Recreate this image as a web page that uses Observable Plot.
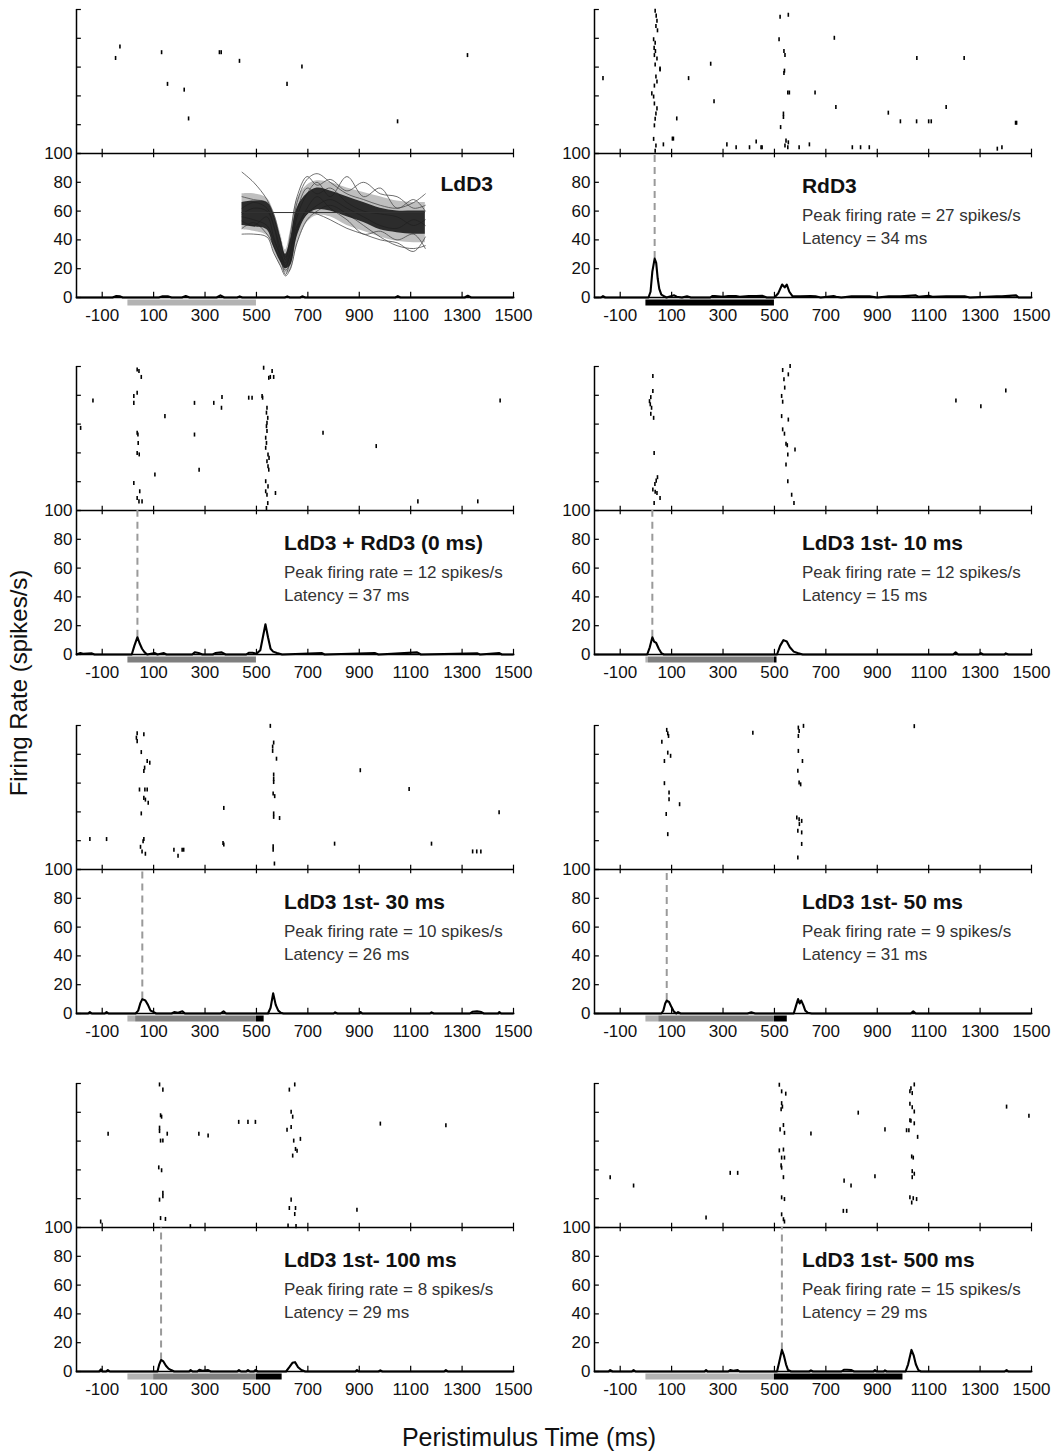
<!DOCTYPE html>
<html>
<head>
<meta charset="utf-8">
<script src="https://cdn.jsdelivr.net/npm/d3@7"></script>
<script src="https://cdn.jsdelivr.net/npm/@observablehq/plot@0.6"></script>
<style>
  body { margin: 0; background: #fff; }
  #fig { position: relative; width: 1060px; height: 1452px; background: #fff;
         font-family: "Liberation Sans", Arial, sans-serif; color: #111; }
  #fig svg { position: absolute; overflow: visible; }
  .ytitle { position: absolute; left: 19px; top: 683px; transform: translate(-50%, -50%) rotate(-90deg);
            font-size: 24px; white-space: nowrap; }
  .xtitle { position: absolute; left: 529px; top: 1437px; transform: translate(-50%, -50%);
            font-size: 25px; white-space: nowrap; }
</style>
</head>
<body>
<div id="fig">
  <div class="ytitle">Firing Rate (spikes/s)</div>
  <div class="xtitle">Peristimulus Time (ms)</div>
</div>
<script>
// ---- conditions ----
const panelNames = ["LdD3", "RdD3", "LdD3 + RdD3 (0 ms)", "LdD3 1st- 10 ms",
                    "LdD3 1st- 30 ms", "LdD3 1st- 50 ms", "LdD3 1st- 100 ms", "LdD3 1st- 500 ms"];
const offsets    = [null, 0, 0, 10, 30, 50, 100, 500];   // onset of the response window (ms)
const peakRates  = [null, 27, 12, 12, 10, 9, 8, 15];       // spikes/s
const latencies  = [null, 34, 37, 15, 26, 31, 29, 29];     // ms

// stimulus timing: [start, end, which electrode(s)]
const stimLdD3   = [[0, 500, "L"]];
const stimRdD3   = [[0, 500, "R"]];
const stimBoth   = [[0, 500, "LR"]];
const stimLag10  = [[0, 10, "L"], [10, 500, "LR"], [500, 510, "R"]];
const stimLag30  = [[0, 30, "L"], [30, 500, "LR"], [500, 530, "R"]];
const stimLag50  = [[0, 50, "L"], [50, 500, "LR"], [500, 550, "R"]];
const stimLag100 = [[0, 100, "L"], [100, 500, "LR"], [500, 600, "R"]];
const stimLag500 = [[0, 500, "L"], [500, 1000, "R"]];

// ---- spike rasters: [time ms, trial] ----
const rasterLdD3 = [[-48,33],[-31,37],[131,35],[154,24],[219,22],[236,12],[356,35],[363,35],[434,32],
  [619,24],[677,30],[1049,11],[1321,34]];
const rasterRdD3 = [[36,49.4],[40,47.7],[43,45.9],[39,44.1],[45,42.6],[30,39.5],[36,38.3],[32,36.5],
  [37,35.4],[33,34],[43,32.8],[36,30.7],[55,29.3],[39,26.6],[43,24.8],[33,23.4],[23,20.7],[30,19.6],
  [33,17.2],[43,15.5],[39,13.7],[36,11.9],[33,9.6],[30,4.9],[39,2.6],[36,0.8],
  [554,48],[522,47.3],[518,39.5],[537,35.4],[541,34],[539,28.6],[537,27.8],[552,21],[558,21],[535,13.7],
  [535,12.5],[524,9],[545,4.3],[541,2.6],[552,2],[554,3.7],
  [-167,26],[55,29],[68,3],[103,5],[107,5],[120,12],[166,26],[252,31],[265,18],[315,3],[351,2],[403,2],
  [429,4],[448,2],[452,2],[596,2],[636,3],[658,21],[733,40],[739,16],[803,2],[835,2],[869,2],[943,14],
  [990,11],[1053,11],[1054,33],[1100,11],[1110,11],[1168,16],[1238,33],[1367,1.5],[1385,2],[1438,10.5],[1442,10.5]];
const rasterBoth = [[36,48.8],[43,48.3],[52,46.2],[36,40.7],[23,39.6],[23,37.2],[36,26.8],[39,26.2],
  [40,23.3],[36,19.8],[44,19.3],[23,9.4],[46,6.5],[36,4.2],[43,3],[55,3],
  [528,49.4],[561,48.3],[554,46.2],[567,46.2],[548,45.9],[522,39.6],[524,39],[541,35.5],[539,33.8],
  [544,32],[541,30.3],[539,29.1],[541,27.4],[536,25.1],[539,23.3],[536,21.6],[545,19.3],[549,18.1],
  [541,16.9],[545,15.2],[548,14],[536,10],[545,8.2],[536,6.5],[574,5.9],[541,5.3],[544,2.4],[539,0.7],
  [-184,28.5],[-136,38],[105,12.3],[144,32.6],[259,37.2],[259,26.2],[277,14],[334,37.2],[366,39.2],
  [364,35.5],[470,39],[483,39],[759,26.8],[966,22.2],[1128,3],[1361,3],[1448,38]];
const rasterLag10 = [[27,46.5],[27,41.3],[19,39.2],[14,37.8],[17,36.7],[22,35.5],[19,33.4],[30,32],
  [32,19.8],[45,11.4],[40,10.2],[35,9],[27,7.1],[36,6.3],[43,5.9],[55,4.2],[32,2.4],
  [561,50],[532,48.6],[554,47.1],[537,45.4],[540,42.5],[528,39.6],[532,37.6],[528,32.6],[554,31.4],
  [532,28],[539,26.5],[545,23],[550,22.5],[580,21],[552,19.3],[545,15.8],[552,10],[567,5.3],[576,2.4],
  [1206,38],[1303,36],[1400,41.5]];
const rasterLag30 = [[36,47.1],[62,46.8],[33,45.6],[36,44.4],[52,40.6],[75,37.5],[85,36.9],[65,35.2],
  [62,34],[45,27.6],[66,27.6],[75,27.6],[62,24.7],[68,24.1],[79,23],[52,19.3],[62,10.4],[59,9.6],
  [49,7.7],[55,6.1],[68,5.3],
  [554,49.7],[567,43.9],[563,42.5],[563,41],[578,38.3],[567,32.8],[567,31.3],[567,30.2],[565,26.2],
  [571,25.3],[567,19.3],[567,18.1],[590,17.7],[565,7.9],[565,6.7],[570,1.9],
  [-148,10.4],[-83,10.4],[179,6.7],[195,4.6],[211,6.7],[217,6.7],[373,21.2],[370,9],[373,8.5],[804,8.8],
  [904,34.3],[1094,27.8],[1181,8.8],[1341,6.1],[1357,6.1],[1373,6.1],[1444,19.7]];
const rasterLag50 = [[81,48.3],[85,47.1],[88,46.2],[62,44.2],[85,40.4],[96,39.3],[72,37.5],[72,29.8],
  [90,26.6],[90,24.2],[131,22.5],[79,19.1],[85,12.1],
  [593,49.1],[596,47.9],[593,46.2],[613,49.7],[593,41],[609,37.5],[591,34.1],[596,30],[602,29.4],
  [587,17.9],[596,17.3],[606,16.7],[597,15.6],[591,13.3],[606,12.7],[606,8.7],[591,4],
  [416,47.3],[1044,49.6]];
const rasterLag100 = [[123,49.5],[136,47.7],[127,38.8],[131,38.3],[123,34.5],[123,33.3],[153,32.4],
  [127,30],[136,30],[120,20.7],[131,19.7],[136,11.9],[136,10.7],[123,9.5],[127,3.1],[146,2.8],
  [649,49.5],[628,47.7],[635,40],[641,38.3],[619,33.8],[635,34.7],[645,30],[671,30.6],[652,27.1],
  [658,26.5],[641,24.8],[635,9.5],[628,6.6],[652,6.6],[649,4.5],[623,0.5],[654,0.3],
  [-106,1.9],[-77,32.4],[276,32.4],[312,31.8],[243,0.3],[431,36.5],[467,36.5],[496,36.5],[891,6],
  [982,35.9],[1237,35.3]];
const rasterLag500 = [[519,49.4],[528,47.1],[544,46.3],[528,43],[531,41.8],[526,40.9],[535,35.4],
  [522,33.9],[539,32.7],[519,26.6],[535,26.9],[528,24.1],[539,24.1],[526,21.4],[528,20.6],[535,17.3],
  [528,10.3],[539,9.7],[528,4.4],[535,2.7],[539,1.9],
  [1044,49.5],[1031,48.2],[1027,47.1],[1036,46.5],[1027,42.8],[1036,41.6],[1044,40.1],[1027,37.1],
  [1031,36.9],[1044,36],[1014,33.6],[1023,33.6],[1057,31.3],[1034,24.5],[1040,24.1],[1036,19.4],
  [1044,18.5],[1036,17.3],[1027,10.3],[1040,10],[1053,9.7],[1034,8.5],
  [-139,17.3],[-48,14.4],[234,3.3],[328,18.8],[357,18.8],[642,32.5],[826,39.7],[771,16.1],[798,14.4],
  [891,17.6],[930,33.9],[768,5.6],[781,5.6],[1403,41.8],[1490,38.6]];

// ---- peristimulus time histograms: [time ms, spikes/s] ----
const psthLdD3 = [[-200,0],[-60,0],[-45,1],[-30,0.8],[-20,0],[120,0],[135,0.8],[155,0.8],[170,0],
  [210,0],[225,1],[240,0],[345,0],[360,1.5],[375,0],[425,0],[435,0.8],[445,0],[610,0],[620,0.8],
  [630,0],[670,0],[678,0.8],[690,0],[1040,0],[1050,1],[1060,0],[1310,0],[1322,1.2],[1335,0],[1500,0]];
const psthRdD3 = [[-200,0],[-175,0],[-167,1],[-158,0],[10,0],[18,4],[25,18],[34,27],[40,24],[46,13],
  [52,6],[60,2],[70,1],[80,0],[100,1],[110,1.5],[120,0.5],[140,0],[160,0.8],[175,0],[250,0],[258,1],
  [268,1],[300,0.5],[320,1],[350,1],[365,0.5],[400,1],[430,1],[452,1.2],[470,0],[500,0],[515,3],
  [530,9],[540,7],[548,9],[558,4],[570,1],[600,0.8],[640,1],[660,0.8],[680,0],[730,1],[740,0.5],
  [760,0],[800,0.8],[835,0.8],[870,0.8],[900,0],[945,0.8],[990,0.8],[1050,1.5],[1060,0.5],[1100,1.2],
  [1115,0.5],[1168,0.8],[1240,0.8],[1260,0],[1365,0.8],[1385,0.8],[1440,1.5],[1450,0],[1500,0]];
const psthBoth = [[-200,0],[-185,1],[-175,0.5],[-140,0.8],[-130,0],[15,0],[25,6],[37,12],[45,8],
  [55,4],[65,1.5],[75,0],[105,1],[115,0],[140,1],[150,0],[250,0],[260,1.5],[275,1],[290,0],[330,0],
  [340,1],[365,1.5],[380,0],[460,0],[470,1.2],[485,1.2],[500,0.5],[515,3],[525,12],[535,21],[545,12],
  [555,4],[565,2],[580,1],[600,0],[755,1],[765,0],[960,1],[975,0],[1125,1.5],[1140,0],[1360,0.8],
  [1370,0],[1445,1],[1455,0],[1500,0]];
const psthLag10 = [[-200,0],[5,0],[15,5],[25,12],[32,9],[40,8],[50,4],[60,1],[70,0],[510,0],[522,6],
  [535,10],[548,9],[560,5],[575,2],[590,1],[610,0],[1195,0],[1205,1.5],[1215,0],[1295,0],[1303,1],
  [1312,0],[1395,0],[1400,0.8],[1410,0],[1500,0]];
const psthLag30 = [[-200,0],[-155,0],[-148,1],[-140,0],[-90,0],[-83,1],[-75,0],[30,0],[40,2],[48,7],
  [56,10],[68,9],[78,6],[88,2],[100,1],[110,0],[170,0],[180,1],[195,0.5],[212,1.5],[222,0],[360,0],
  [372,1.5],[382,0],[545,0],[555,4],[565,14],[575,6],[585,2],[595,0.5],[605,0],[800,0],[806,0.8],
  [815,0],[900,0],[905,1],[912,0],[1175,0],[1181,0.8],[1190,0],[1330,0],[1340,1.2],[1358,1.5],
  [1375,1],[1385,0],[1440,0],[1445,1],[1452,0],[1500,0]];
const psthLag50 = [[-200,0],[60,0],[68,2],[75,7],[81,9],[90,8],[98,5],[108,1.5],[118,0],[125,1],
  [135,0],[395,0],[410,0.8],[425,0],[575,0],[585,6],[592,10],[598,7],[604,9],[612,6],[620,2],
  [630,0.5],[645,0],[1030,0],[1040,1.5],[1050,0],[1500,0]];
const psthLag100 = [[-200,0],[-112,0],[-105,1.5],[-98,0],[-85,0],[-78,1],[-70,0],[115,0],[122,5],
  [129,8],[138,7],[148,4],[158,2],[168,1],[180,0],[238,0],[244,1],[252,0],[270,0],[278,1.2],[290,0.5],
  [312,1],[322,0],[425,0],[432,1],[440,0],[460,0],[467,1],[475,0],[490,0],[496,1],[505,0],[615,0],
  [628,3],[640,6],[650,6.5],[662,3],[675,1],[690,0],[885,0],[891,1],[898,0],[975,0],[982,0.8],
  [990,0],[1230,0],[1237,1],[1245,0],[1500,0]];
const psthLag500 = [[-200,0],[-145,0],[-139,1],[-130,0],[-55,0],[-48,1],[-40,0],[228,0],[234,1],
  [240,0],[320,0],[328,1],[340,0.5],[357,1],[365,0],[510,0],[518,6],[529,15],[537,11],[545,5],
  [553,1],[565,0],[635,0],[642,0.8],[650,0],[760,0],[770,1.2],[782,1.2],[798,1],[810,0],[885,0],
  [891,1],[898,0],[925,0],[930,0.8],[937,0],[1010,0],[1020,5],[1033,15],[1042,11],[1050,5],
  [1060,1],[1070,0],[1395,0],[1403,1],[1410,0],[1500,0]];

// ---- LdD3 spike waveform overlay (placed on the first panel's axes) ----
const waveT       = [444, 489, 541, 567, 593, 613, 632, 658, 697, 736, 787, 852, 917, 982, 1047, 1112, 1157];
const waveInnerLo = [50, 49, 47, 35, 25, 20, 22, 42, 57, 61, 60, 56, 52, 47, 45, 44, 44];
const waveInnerHi = [66, 67, 66, 58, 42, 30, 40, 62, 72, 76, 74, 70, 66, 62, 60, 60, 60];
const waveMidLo   = [47, 46, 43, 32, 22, 17, 18, 36, 52, 57, 56, 50, 46, 42, 39, 38, 38];
const waveMidHi   = [72, 72, 69, 60, 45, 33, 46, 68, 78, 81, 80, 76, 73, 70, 67, 66, 66];
const waveTraces = [
  [87, 80, 68, 56, 40, 28, 38, 66, 82, 86, 80, 72, 68, 64, 62, 66, 72],
  [44, 44, 42, 31, 22, 15, 20, 38, 54, 60, 64, 58, 50, 42, 36, 34, 36],
  [62, 66, 62, 50, 34, 22, 30, 56, 72, 80, 70, 84, 70, 76, 62, 68, 60],
  [53, 50, 56, 42, 28, 16, 26, 48, 60, 58, 54, 48, 44, 40, 38, 32, 42],
  [70, 68, 66, 58, 40, 26, 44, 70, 84, 78, 82, 74, 80, 72, 70, 62, 64],
  [48, 52, 44, 36, 26, 19, 24, 46, 62, 70, 62, 54, 44, 46, 40, 44, 34],
  [58, 62, 60, 50, 30, 21, 32, 60, 76, 72, 76, 66, 60, 58, 56, 50, 54],
  [56, 54, 50, 40, 30, 24, 34, 50, 58, 64, 68, 62, 56, 50, 48, 54, 50]
];
const waveThreshold = 59;

// ---- axis ticks ----
const xTicks = [-100, 100, 300, 500, 700, 900, 1100, 1300, 1500];
const rateTicks = [0, 20, 40, 60, 80, 100];
const trialTicks = [0, 10, 20, 30, 40, 50];

const rasters = [rasterLdD3, rasterRdD3, rasterBoth, rasterLag10, rasterLag30, rasterLag50, rasterLag100, rasterLag500];
const psths = [psthLdD3, psthRdD3, psthBoth, psthLag10, psthLag30, psthLag50, psthLag100, psthLag500];
const stims = [stimLdD3, stimRdD3, stimBoth, stimLag10, stimLag30, stimLag50, stimLag100, stimLag500];

// ---- drawing ----
const shade = {L: "#b3b3b3", LR: "#7f7f7f", R: "#000000"};
const trialY = t => 100 + 2 * t;          // raster occupies the upper half (50 trials)
const colLeft = [36, 554];
const rowTop = [3, 360, 719, 1077];
const fig = document.getElementById("fig");

function waveformMarks() {
  const rows = waveT.map((t, i) => ({t, ilo: waveInnerLo[i], ihi: waveInnerHi[i], mlo: waveMidLo[i], mhi: waveMidHi[i]}));
  const marks = [
    Plot.areaY(rows, {x: "t", y1: "mlo", y2: "mhi", fill: "#8a8a8a", fillOpacity: 0.55, curve: "catmull-rom"})
  ];
  waveTraces.forEach(tr => {
    marks.push(Plot.line(tr.map((v, i) => [waveT[i], v]), {x: d => d[0], y: d => d[1], stroke: "#4a4a4a", strokeWidth: 0.8, curve: "catmull-rom"}));
  });
  marks.push(Plot.areaY(rows, {x: "t", y1: "ilo", y2: "ihi", fill: "#1c1c1c", fillOpacity: 0.9, curve: "catmull-rom"}));
  marks.push(Plot.ruleY([waveThreshold], {x1: waveT[0], x2: waveT[waveT.length - 1], stroke: "#333", strokeWidth: 1}));
  return marks;
}

panelNames.forEach((name, i) => {
  const off = offsets[i], lat = latencies[i], peak = peakRates[i];
  const marks = [
    // stimulus bars under the time axis
    Plot.ruleY(stims[i], {y: 0, x1: d => d[0], x2: d => d[1], stroke: d => shade[d[2]], strokeWidth: 6, dy: 5}),
    // frame lines
    Plot.ruleY([0, 100], {x1: -200, x2: 1500, stroke: "#000", strokeWidth: 1.5}),
    Plot.ruleX([-200], {y1: 0, y2: 200, stroke: "#000", strokeWidth: 1.5}),
    // inward ticks
    Plot.ruleY(rateTicks, {x1: -200, x2: -181, stroke: "#000", strokeWidth: 1.2}),
    Plot.ruleY(trialTicks.map(trialY), {x1: -200, x2: -181, stroke: "#000", strokeWidth: 1.2}),
    Plot.ruleX(xTicks, {y1: 0, y2: 3.6, stroke: "#000", strokeWidth: 1.2}),
    Plot.ruleX(xTicks, {y1: 97, y2: 103, stroke: "#000", strokeWidth: 1.2}),
    Plot.axisX({ticks: xTicks, tickSize: 0, tickPadding: 11, label: null, fontSize: 17, tickFormat: d => String(d)}),
    Plot.axisY({ticks: rateTicks, tickSize: 0, tickPadding: 4, label: null, fontSize: 17, tickFormat: d => String(d)})
  ];
  if (i === 0) marks.push(...waveformMarks());
  if (lat != null) {
    marks.push(Plot.ruleX([off + lat], {y1: peak, y2: 100, stroke: "#9a9a9a", strokeWidth: 2, strokeDasharray: "7,5"}));
  }
  marks.push(
    Plot.ruleX(rasters[i], {x: d => d[0], y1: d => trialY(d[1]) - 1.4, y2: d => trialY(d[1]) + 1.4, stroke: "#000", strokeWidth: 1.6}),
    Plot.line(psths[i], {x: d => d[0], y: d => d[1], stroke: "#000", strokeWidth: 2.1})
  );
  if (i === 0) {
    marks.push(Plot.text([name], {x: 1216, y: 78.5, text: d => d, textAnchor: "start", fontWeight: "bold", fontSize: 21, fill: "#111"}));
  } else {
    marks.push(
      Plot.text([name], {x: 607, y: 77, text: d => d, textAnchor: "start", fontWeight: "bold", fontSize: 21, fill: "#111"}),
      Plot.text([`Peak firing rate = ${peak} spikes/s`], {x: 607, y: 57, text: d => d, textAnchor: "start", fontSize: 17, fill: "#333"}),
      Plot.text([`Latency = ${lat} ms`], {x: 607, y: 41, text: d => d, textAnchor: "start", fontSize: 17, fill: "#333"})
    );
  }
  const svg = Plot.plot({
    width: 504,
    height: 324,
    marginLeft: 40,
    marginRight: 27,
    marginTop: 6,
    marginBottom: 30,
    x: {domain: [-200, 1500]},
    y: {domain: [0, 200]},
    color: {type: "identity"},
    style: {fontFamily: "'Liberation Sans', Arial, sans-serif", fontSize: "17px", background: "transparent", color: "#111", overflow: "visible"},
    marks
  });
  svg.style.left = colLeft[i % 2] + "px";
  svg.style.top = rowTop[Math.floor(i / 2)] + "px";
  fig.appendChild(svg);
});
</script>
</body>
</html>
